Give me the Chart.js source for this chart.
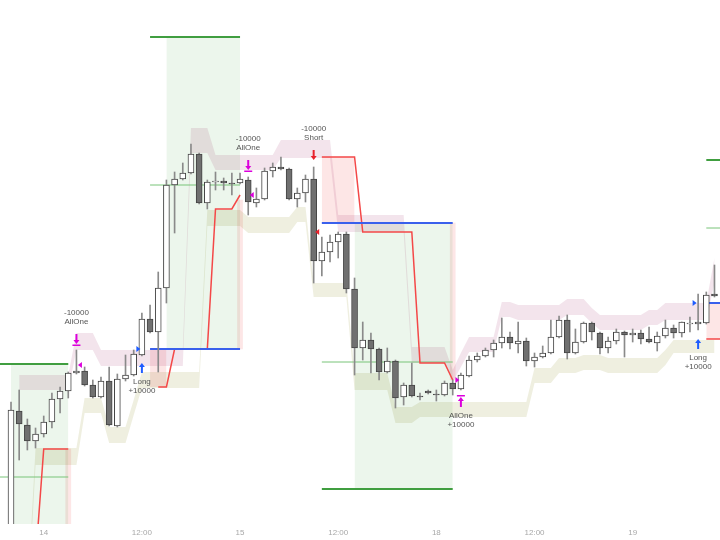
<!DOCTYPE html>
<html>
<head>
<meta charset="utf-8">
<script src="https://cdn.jsdelivr.net/npm/chart.js@4.4.1/dist/chart.umd.min.js"></script>
<style>
  html, body { margin: 0; padding: 0; background: #fff; }
  #chart { display: block; }
</style>
</head>
<body>
<canvas id="chart" width="720" height="540"></canvas>
<script>
// hourly bars, bar 0 = 13th 20:00 (weekend skipped between 15 and 18)
const open = [730, 794.5, 787.5, 779.5, 783, 789, 800.5, 804.5, 813.5, 814.5,
  807.5, 801.5, 809.5, 787, 810.5, 812.5, 822.5, 840.5, 834, 856,
  907.5, 910.5, 913.5, 923, 898.5, 909, 909.5, 908.5, 908.5, 910,
  898.5, 900.5, 914.5, 916.5, 915.5, 900.5, 903.5, 910.5, 869.5, 874,
  879, 883, 855.5, 826, 830, 825.5, 814, 819.5, 801.5, 807.5,
  802, 804.5, 803, 802.5, 808.5, 805.5, 812, 820, 822, 825,
  828.5, 831.5, 828, 829.5, 819.5, 821.5, 823.5, 831.5, 840, 823.5,
  829, 838.5, 833.5, 826, 829.5, 834, 832.5, 833.5, 830.5, 828.5,
  832, 836, 833.5, 838, 838, 838.5, 853];
const high = [799, 805, 790.5, 786, 792, 803.5, 806.5, 814, 825, 816.5,
  810, 811.5, 816.5, 813, 822.5, 825, 843.5, 847.5, 864, 910,
  914, 918.5, 928, 923.5, 910, 914, 911, 913.5, 913.5, 911.5,
  906, 916, 918.5, 921.5, 916, 906, 912.5, 916.5, 881.5, 882.5,
  884, 884, 861, 839, 833.5, 826, 826, 820, 808.5, 818.5,
  803.5, 805, 805, 809.5, 810, 813.5, 822, 823.5, 826, 830,
  841, 834, 839, 831, 823.5, 827, 840, 842, 842.5, 835.5,
  839, 839, 834, 831.5, 835.5, 834.5, 835.5, 835, 836.5, 834,
  840, 837.5, 839, 841.5, 853, 854, 867.5];
const low = [720, 770, 775, 776, 781.5, 786, 793.5, 801, 813, 807,
  801, 801, 787, 786.5, 809.5, 812, 822, 833.5, 814, 848.5,
  883.5, 910, 913, 898, 895.5, 905, 905, 902.5, 908, 892.5,
  896.5, 900, 911.5, 915, 900, 896.5, 899, 858.5, 862, 869,
  871, 853.5, 812.5, 820, 813.5, 810, 813.5, 796, 797.5, 801.5,
  800, 803, 799.5, 802, 802.5, 805, 811.5, 819, 821.5, 821.5,
  826, 825.5, 823.5, 817, 816.5, 821, 823, 831, 820.5, 823,
  828.5, 830, 823, 823.5, 828, 821.5, 829, 828, 828.5, 824.5,
  831, 831, 831.5, 834, 835, 838, 851.5];
const close = [795, 788, 779.5, 783, 789, 800.5, 804.5, 813.5, 814.5, 807.5,
  801.5, 809.5, 787.5, 810.5, 812.5, 823, 840.5, 834, 856, 907.5,
  910.5, 913.5, 923, 898.5, 909, 909.5, 908.5, 908, 910.5, 899,
  900.5, 914.5, 916.5, 915.5, 900.5, 903.5, 910.5, 869.5, 874, 879,
  883, 855.5, 826, 830, 825.5, 814, 819.5, 801, 807.5, 802,
  801.5, 803.5, 802.5, 808.5, 805.5, 812.5, 820, 822, 825, 828.5,
  831.5, 828.5, 829.5, 819.5, 821.5, 823.5, 831.5, 840, 823.5, 829,
  838.5, 834, 826, 829.5, 834, 832.5, 833.5, 830.5, 829, 832,
  836, 833.5, 839, 838.5, 839, 852.5, 852];

// channel bands
const upperTop = [null, 812.5, 812.5, 812.5, 812.5, 812.5, 812.5, 812.5, 833.5, 833.5,
  833.5, 825, 825, 825, 825, 825, 825, 825, 825, 825,
  825, 825, 936, 936, 936, 922.5, 922.5, 922.5, 922.5, 922.5,
  922.5, 922.5, 922.5, 930, 930, 930, 930, 930, 930, 930,
  892.5, 892.5, 892.5, 892.5, 892.5, 892.5, 892.5, 892.5, 892.5, 826.5,
  826.5, 826.5, 826.5, 826.5, 815, 823.5, 831.5, 831.5, 831.5, 831.5,
  849, 849, 847.5, 847.5, 847.5, 847.5, 847.5, 847.5, 850.5, 850.5,
  850.5, 846, 842.5, 842.5, 842.5, 842.5, 842.5, 842.5, 845, 845,
  848.5, 848.5, 848.5, 848.5, 848.5, 848.5, 871];
const upperBottom = [null, 805, 805, 805, 805, 805, 805, 805, 825, 825,
  825, 817, 817, 817, 817, 817, 817, 817, 817, 817,
  817, 817, 923.5, 923.5, 923.5, 915, 915, 915, 915, 915,
  915, 915, 915, 921, 921, 921, 921, 921, 921, 921,
  884, 884, 884, 884, 884, 884, 884, 884, 884, 818.5,
  818.5, 818.5, 818.5, 818.5, 809, 816.5, 824, 824, 824, 824,
  841.5, 841.5, 840, 840, 840, 840, 840, 840, 842.5, 842.5,
  842.5, 838.5, 835, 835, 835, 835, 835, 835, 837.5, 837.5,
  840, 840, 840, 840, 840, 840, 858.5];
const lowerTop = [700, 700, 700, 776, 776, 776, 776, 776, 776, 801,
  801, 801, 786.5, 786.5, 786.5, 800, 814, 814, 814, 814,
  814, 814, 814, 814, 895, 895, 895, 895, 895, 891.5,
  891.5, 891.5, 891.5, 891.5, 891.5, 896.5, 896.5, 858.5, 858.5, 858.5,
  858.5, 858.5, 813.5, 813.5, 813.5, 813.5, 813.5, 796.5, 796.5, 796.5,
  799, 799, 799, 799, 799, 799, 799, 799, 799, 799,
  799, 799, 799, 799, 816, 816, 816, 821, 821, 821,
  822.5, 822.5, 822.5, 821, 821, 821, 821, 821, 821, 821,
  825, 830, 830, 830, 830, 830, 830];
const lowerBottom = [692.5, 692.5, 692.5, 767.5, 767.5, 767.5, 767.5, 767.5, 767.5, 793.5,
  793.5, 793.5, 778.5, 778.5, 778.5, 792.5, 806, 806, 806, 806,
  806, 806, 806, 806, 887, 887, 887, 887, 887, 883.5,
  883.5, 883.5, 883.5, 883.5, 883.5, 889, 889, 851.5, 851.5, 851.5,
  851.5, 851.5, 805, 805, 805, 805, 805, 788.5, 788.5, 788.5,
  791.5, 791.5, 791.5, 791.5, 791.5, 791.5, 791.5, 791.5, 791.5, 791.5,
  791.5, 791.5, 791.5, 791.5, 808.5, 808.5, 808.5, 813.5, 813.5, 813.5,
  815, 815, 815, 813.5, 813.5, 813.5, 813.5, 813.5, 813.5, 813.5,
  817.5, 823.5, 823.5, 823.5, 823.5, 823.5, 823.5];

// trailing stop
const trailStop = [null, null, null, 720, 775.5, 775.5, 775.5, 775.5, null, null,
  null, null, null, null, null, null, null, null, 806.5, 806.5,
  825.5, 825.5, 825.5, 825.5, 825.5, 895.5, 895.5, 895.5, 902.5, null,
  null, null, null, null, null, null, null, null, 921.5, 921.5,
  921.5, 921.5, 921.5, 884, 884, 884, 884, 884, 884, 884,
  818.5, 818.5, 818.5, 818.5, 810, null, null, null, null, null,
  null, null, null, null, null, null, null, null, null, null,
  null, null, null, null, null, null, null, null, null, null,
  null, null, null, null, null, 830.5, 830.5];

// trades
const tradeStart = [-2, 17, 38, 85];
const tradeEnd = [7, 28, 54, 87];
const tradeTarget = [818, 981.5, 755.5, 920];
const tradeEntry = [761.5, 907.5, 819, 886];
const tradeStop = [730, 825.5, 888.5, 848.5];
const profitFrom = [0, 19, 42, null];
const lossUntil = [null, 19, 42, 87];
const lossLevel = [null, 806.5, 921.5, 830.5];
const exitLevel = [775.5, 900, 810, null];

// signals
const signalIndex = [8, 16, 29, 37, 55, 84];
const signalTip = [828, 818.5, 915, 920, 801.5, 830.5];
const signalName = ["AllOne", "Long", "AllOne", "Short", "AllOne", "Long"];
const signalQty = [-10000, 10000, -10000, -10000, 10000, 10000];
const fillPrice = [817.5, 825.5, 902.5, 884, 810, 848.5];

const tickIndex = [4, 16, 28, 40, 52, 64, 76];
const tickLabels = ["14", "12:00", "15", "12:00", "18", "12:00", "19"];

const signalColors = { AllOne: "#dc00dc", Long: "#1e5cff", Short: "#e8222c" };
const greenFill = "rgb(236,246,236)";
const pinkFill = "rgb(253,230,230)";

const pts = (arr) => arr.map((v, i) => ({ x: i, y: v }));

function hline(a, b, y, color, width, order) {
  return {
    type: "line",
    data: [{ x: a, y: y }, { x: b, y: y }],
    borderColor: color,
    borderWidth: width,
    pointRadius: 0,
    fill: false,
    order: order,
  };
}

function zone(a, b, top, bottom, color) {
  return {
    type: "line",
    data: [{ x: a, y: top }, { x: b, y: top }],
    borderWidth: 0,
    pointRadius: 0,
    fill: { value: bottom },
    backgroundColor: color,
    order: 9,
    multiply: true,
  };
}

const datasets = [];

tradeStart.forEach((s, t) => {
  if (profitFrom[t] !== null) {
    datasets.push(zone(profitFrom[t], tradeEnd[t], tradeTarget[t], tradeStop[t], greenFill));
  }
  if (lossUntil[t] !== null) {
    datasets.push(zone(s, lossUntil[t], lossLevel[t], tradeStop[t], pinkFill));
  }
});

datasets.push({
  type: "bar",
  data: tradeEnd
    .map((e, t) => (exitLevel[t] === null ? null : { x: e, y: [tradeStop[t], exitLevel[t]] }))
    .filter(Boolean),
  backgroundColor: pinkFill,
  barThickness: 5,
  grouped: false,
  order: 9,
  multiply: true,
});

datasets.push({
  type: "line", data: pts(upperTop), borderWidth: 0, pointRadius: 0,
  fill: "+1", backgroundColor: "rgb(243,228,236)", order: 8, multiply: true,
});
datasets.push({
  type: "line", data: pts(upperBottom), borderWidth: 0, pointRadius: 0,
  fill: false, order: 8, multiply: true,
});
datasets.push({
  type: "line", data: pts(lowerTop), borderWidth: 0, pointRadius: 0,
  fill: "+1", backgroundColor: "rgb(239,239,224)", order: 8, multiply: true,
});
datasets.push({
  type: "line", data: pts(lowerBottom), borderWidth: 0, pointRadius: 0,
  fill: false, order: 8, multiply: true,
});

tradeStart.forEach((s, t) => {
  datasets.push(hline(s, tradeEnd[t], tradeTarget[t], "rgb(64,158,64)", 2, 6));
  datasets.push(hline(s, tradeEnd[t], tradeEntry[t], "rgb(120,196,120)", 1, 6));
  datasets.push(hline(s, tradeEnd[t], tradeStop[t], "rgb(58,96,236)", 2, 4));
});

const stopPts = pts(trailStop);
if (trailStop[trailStop.length - 1] !== null) {
  stopPts.push({ x: tradeEnd[tradeEnd.length - 1], y: trailStop[trailStop.length - 1] });
}
datasets.push({
  type: "line",
  data: stopPts,
  borderColor: "rgb(244,72,72)",
  borderWidth: 1.5,
  pointRadius: 0,
  fill: false,
  spanGaps: false,
  order: 5,
});

datasets.push({
  type: "bar",
  data: open.map((o, i) => ({ x: i, y: [low[i], high[i]] })),
  backgroundColor: "#8a8a8a",
  barThickness: 1,
  grouped: false,
  order: 2,
  candle: true,
});
datasets.push({
  type: "bar",
  data: open.map((o, i) => ({ x: i, y: [o, close[i]] })),
  backgroundColor: open.map((o, i) => (close[i] >= o ? "#ffffff" : "#707070")),
  borderColor: "#444444",
  borderWidth: 1,
  borderSkipped: false,
  barThickness: 6,
  grouped: false,
  order: 1,
  candle: true,
});

function drawArrow(ctx, x, tip, up, color, bar) {
  const d = up ? 1 : -1;
  ctx.fillStyle = color;
  ctx.beginPath();
  ctx.moveTo(x, tip);
  ctx.lineTo(x - 3, tip + d * 4);
  ctx.lineTo(x + 3, tip + d * 4);
  ctx.closePath();
  ctx.fill();
  ctx.fillRect(x - 1, up ? tip + 3 : tip - 10, 2, 7);
  if (bar) ctx.fillRect(x - 4, up ? tip - 2 : tip + 0.5, 8, 1.5);
}

function drawSignals(chart) {
  const ctx = chart.ctx;
  const xs = chart.scales.x;
  const ys = chart.scales.y;
  ctx.save();
  ctx.font = '8px "Liberation Sans", sans-serif';
  ctx.textAlign = "center";
  ctx.textBaseline = "middle";
  signalIndex.forEach((i, k) => {
    const x = xs.getPixelForValue(i);
    const tip = ys.getPixelForValue(signalTip[k]);
    const name = signalName[k];
    const color = signalColors[name];
    const up = signalQty[k] > 0;
    drawArrow(ctx, x, tip, up, color, name === "AllOne");
    const qty = (up ? "+" : "") + signalQty[k];
    ctx.fillStyle = "#555";
    if (up) {
      ctx.fillText(name, x, tip + 19);
      ctx.fillText(qty, x, tip + 28);
    } else {
      ctx.fillText(qty, x, tip - 31);
      ctx.fillText(name, x, tip - 22);
    }
    const fy = ys.getPixelForValue(fillPrice[k]);
    const fx = x + (up ? -3.5 : 3.5);
    ctx.fillStyle = color;
    ctx.beginPath();
    if (up) {
      ctx.moveTo(fx + 2, fy);
      ctx.lineTo(fx - 2, fy - 3);
      ctx.lineTo(fx - 2, fy + 3);
    } else {
      ctx.moveTo(fx - 2, fy);
      ctx.lineTo(fx + 2, fy - 3);
      ctx.lineTo(fx + 2, fy + 3);
    }
    ctx.closePath();
    ctx.fill();
  });
  ctx.restore();
}

const overlay = {
  id: "overlay",
  beforeDraw(chart) {
    const c = chart.ctx;
    c.save();
    c.fillStyle = "#fff";
    c.fillRect(0, 0, chart.width, chart.height);
    c.restore();
  },
  beforeDatasetsDraw(chart) {
    chart.ctx.save();
    chart.ctx.globalCompositeOperation = "multiply";
  },
  beforeDatasetDraw(chart, args) {
    if (!chart.data.datasets[args.index].multiply) {
      chart.ctx.globalCompositeOperation = "source-over";
    }
  },
  afterDatasetsDraw(chart) {
    chart.ctx.restore();
    drawSignals(chart);
  },
};

new Chart(document.getElementById("chart"), {
  type: "bar",
  data: { datasets: datasets },
  options: {
    responsive: false,
    animation: false,
    devicePixelRatio: 1,
    layout: { padding: 0 },
    plugins: { legend: { display: false }, tooltip: { enabled: false } },
    scales: {
      x: {
        type: "linear",
        min: -1.345,
        max: 86.675,
        offset: false,
        grid: { display: false, drawTicks: false },
        border: { display: false },
        afterBuildTicks: (axis) => {
          axis.ticks = tickIndex.map((v) => ({ value: v }));
        },
        afterFit: (axis) => {
          axis.height = 16;
        },
        ticks: {
          padding: 4,
          maxRotation: 0,
          autoSkip: false,
          color: "#a8a8a8",
          font: { family: "Liberation Sans", size: 8 },
          callback: (v) => tickLabels[tickIndex.indexOf(v)],
        },
      },
      y: { display: false, min: 738, max: 1000 },
    },
  },
  plugins: [overlay],
});
</script>
</body>
</html>
